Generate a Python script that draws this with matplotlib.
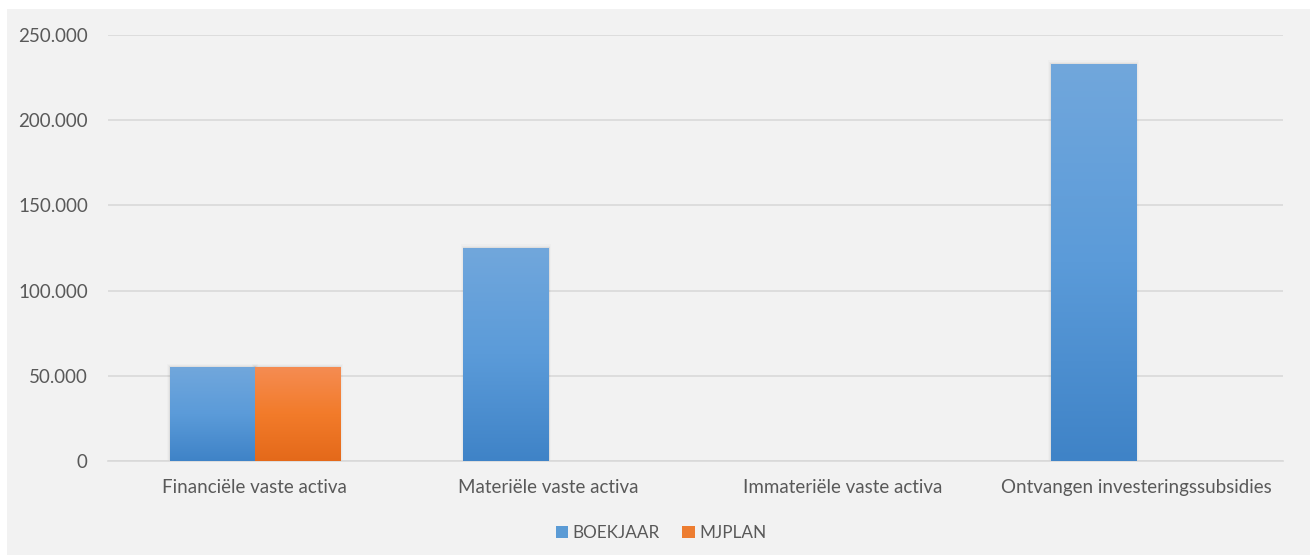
import numpy as np
import matplotlib
matplotlib.use('Agg')
import matplotlib.pyplot as plt
from matplotlib.patches import Rectangle, Patch
from matplotlib.colors import LinearSegmentedColormap
from matplotlib.ticker import FuncFormatter

# data
categories = ['Financiële vaste activa', 'Materiële vaste activa',
              'Immateriële vaste activa', 'Ontvangen investeringssubsidies']
boekjaar = [55000, 125000, 0, 233000]
mjplan = [55000, 0, 0, 0]
series_names = ['BOEKJAAR', 'MJPLAN']

plt.rcParams['font.family'] = ['Lato', 'DejaVu Sans']

fig = plt.figure(figsize=(13.1, 5.55), dpi=100)
fig.patch.set_facecolor('white')
# grey chart area
fig.patches.append(Rectangle((7 / 1310, 0), 1 - 7 / 1310, 1 - 9 / 555,
                             transform=fig.transFigure, facecolor='#f2f2f2',
                             edgecolor='none', zorder=-10))

ax = fig.add_axes([108 / 1310, 94 / 555, 1175 / 1310, 426 / 555])
ax.set_facecolor('none')

x = np.arange(len(categories))
w = 0.29
blue_cmap = LinearSegmentedColormap.from_list('b', ['#3f83c7', '#5b9bd9', '#71a7dc'])
orange_cmap = LinearSegmentedColormap.from_list('o', ['#e4691a', '#f27b2a', '#f58c52'])

bars1 = ax.bar(x - w / 2, boekjaar, w, color='#5b9bd5', zorder=3)
bars2 = ax.bar(x + w / 2, mjplan, w, color='#ed7d31', zorder=3)

grad = np.linspace(0, 1, 256).reshape(-1, 1)
for bars, cmap in [(bars1, blue_cmap), (bars2, orange_cmap)]:
    for b in bars:
        h = b.get_height()
        if h <= 0:
            continue
        x0 = b.get_x()
        bw = b.get_width()
        # soft shadow
        for k, a in enumerate([0.04, 0.025, 0.015]):
            d = 0.003 * (k + 1)
            ax.add_patch(Rectangle((x0 - d, 0), bw + 2 * d, h + 700 * (k + 1),
                                   facecolor='black', alpha=a, edgecolor='none', zorder=2))
        im = ax.imshow(grad, cmap=cmap, origin='lower', aspect='auto',
                       extent=[x0, x0 + bw, 0, h], zorder=4)
        im.set_clip_path(b)

ax.set_xlim(-0.5, len(categories) - 0.5)
ax.set_ylim(0, 250000)
ax.set_yticks(np.arange(0, 250001, 50000))
ax.yaxis.set_major_formatter(FuncFormatter(lambda v, p: f'{int(v):,}'.replace(',', '.')))
ax.set_xticks(x)
ax.set_xticklabels(categories)
ax.grid(axis='y', color='#d9d9d9', linewidth=1.2, zorder=1)
ax.tick_params(axis='both', length=0, labelsize=13.5, colors='#595959')
ax.tick_params(axis='y', pad=14.5)
ax.tick_params(axis='x', pad=13)
for s in ['top', 'right', 'left']:
    ax.spines[s].set_visible(False)
ax.spines['bottom'].set_color('#d9d9d9')
ax.spines['bottom'].set_linewidth(1.2)

handles = [Patch(facecolor='#5b9bd5', edgecolor='none'),
           Patch(facecolor='#ed7d31', edgecolor='none')]
leg = fig.legend(handles, series_names, loc='center', bbox_to_anchor=(661 / 1310, 22 / 555),
                 ncol=2, frameon=False, fontsize=12.3, handlelength=0.75, handleheight=0.75,
                 handletextpad=0.25, columnspacing=1.3)
for t in leg.get_texts():
    t.set_color('#595959')

fig.savefig('out.png', dpi=100, facecolor='white')
